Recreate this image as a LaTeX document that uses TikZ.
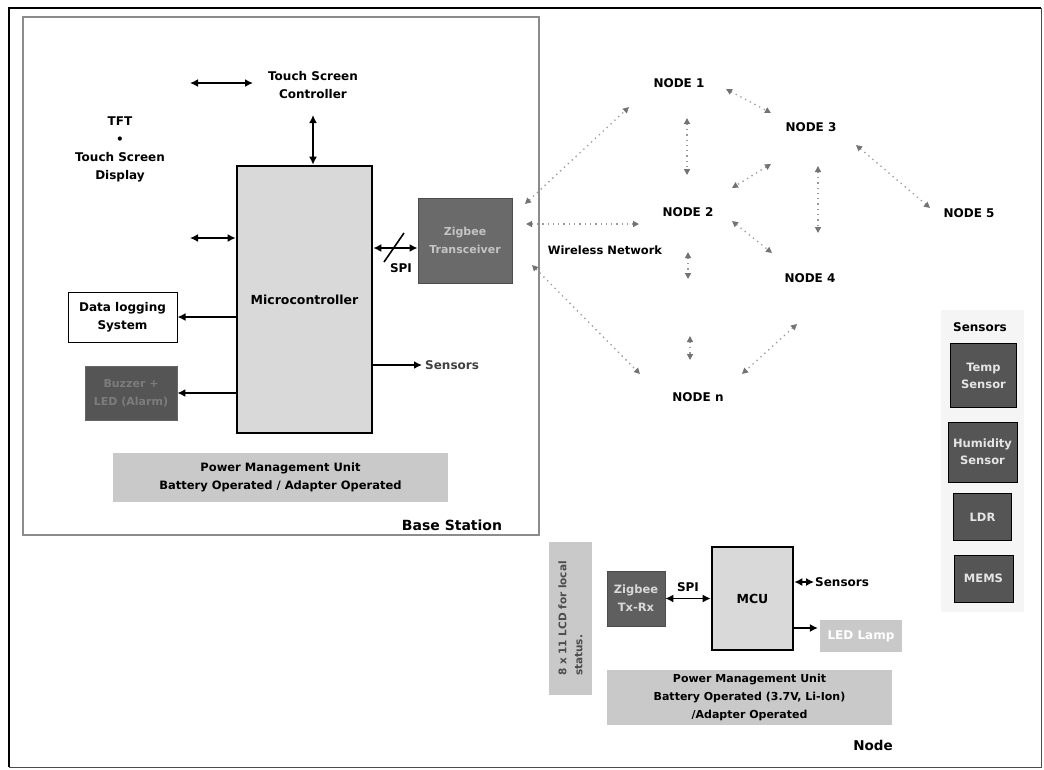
\documentclass[tikz,border=0pt]{standalone}
\usepackage{fontspec}
\setmainfont{DejaVu Sans}
\usetikzlibrary{arrows.meta}
\definecolor{mcufill}{HTML}{D9D9D9}
\definecolor{zigfill}{HTML}{6A6A6A}
\definecolor{zigtext}{HTML}{C4C4C4}
\definecolor{pmufill}{HTML}{C9C9C9}
\definecolor{darkbox}{HTML}{555555}
\definecolor{buzztext}{HTML}{7C7C7C}
\definecolor{netgray}{HTML}{9A9A9A}
\definecolor{panel}{HTML}{F5F5F5}
\tikzset{
  txt/.style={font=\bfseries\fontsize{12}{18}\selectfont, align=center, inner sep=0pt},
  blk/.style={draw=black, line width=2.6pt, fill=mcufill, inner sep=0pt, font=\bfseries\fontsize{12.5}{18}\selectfont},
  dkbox/.style={fill=zigfill, draw=black!70, line width=0.8pt, text=zigtext, inner sep=0pt, align=center, font=\bfseries\fontsize{11}{18}\selectfont},
  sensbox/.style={fill=darkbox, draw=black, line width=1pt, text=white!90!black, inner sep=0pt, align=center, font=\bfseries\fontsize{11.5}{17}\selectfont},
  pmubox/.style={fill=pmufill, inner sep=0pt, align=center, font=\bfseries\fontsize{11.5}{18}\selectfont},
  sarrow/.style={line width=1.8pt, -{Latex[length=8pt,width=8pt]}},
  dbl/.style={line width=1.8pt, {Latex[length=8pt,width=8pt]}-{Latex[length=8pt,width=8pt]}},
  net/.style={draw=netgray, line width=1.3pt, dash pattern=on 1.3pt off 4pt,
    {Triangle[length=6pt,width=6pt,fill=gray!90!black,color=gray!90!black]}-{Triangle[length=6pt,width=6pt,fill=gray!90!black,color=gray!90!black]}},
  nlabel/.style={font=\bfseries\fontsize{12}{14}\selectfont, inner sep=0pt}
}
\begin{document}
\begin{tikzpicture}[x=1pt,y=-1pt]
\useasboundingbox (0,0) rectangle (1044,769);
% outer frame
\draw[black, line width=2.2pt] (9,767) -- (9,8) -- (1041,8);
\draw[black!70, line width=1pt] (1041,8) -- (1041,767) -- (9,767);
% base station frame
\draw[black!45, line width=1.2pt] (23,17) rectangle (539,535);
% sensors panel
\fill[panel] (941,310) rectangle (1024,612);

% ===== Base station =====
\node[txt] (tsc) at (313,85) {Touch Screen\\Controller};
\node[txt] (tft) at (120,149) {TFT\\•\\Touch Screen\\Display};
\node[blk, minimum width=135pt, minimum height=267pt] (mcu) at (304.5,299.5) {Microcontroller};
\node[dkbox, minimum width=94pt, minimum height=85pt] (zt) at (465,240.5) {Zigbee\\Transceiver};
\node[draw=black, line width=1pt, fill=white, inner sep=0pt, minimum width=109pt, minimum height=50pt, txt] (dl) at (122.5,317) {Data logging\\System};
\node[fill=darkbox, draw=black!60, line width=0.8pt, text=buzztext, inner sep=0pt, minimum width=92pt, minimum height=54pt, align=center, font=\bfseries\fontsize{11}{18}\selectfont] (bz) at (131,393) {Buzzer +\\LED (Alarm)};
\node[txt, anchor=west, text=black!75] (sens1) at (425,365) {Sensors};
\node[pmubox, minimum width=335pt, minimum height=49pt] (pmu1) at (280.5,477.5) {Power Management Unit\\Battery Operated / Adapter Operated};
\node[txt, font=\bfseries\fontsize{14}{16}\selectfont] (bs) at (452,525) {Base Station};

\coordinate (ta1) at (190,83);
\coordinate (ta2) at (253,83);
\draw[dbl] (ta1) -- (ta2);
\coordinate (tv) at (313,115);
\draw[dbl] (tv) -- (tv |- mcu.north);
\coordinate (la) at (190,238);
\draw[dbl] (la) -- (la -| mcu.west);
\draw[sarrow] (mcu.west |- dl.east) -- (dl.east);
\draw[sarrow] (mcu.west |- bz.east) -- (bz.east);
\draw[sarrow] (mcu.east |- sens1.west) -- ([xshift=-3pt]sens1.west);
\coordinate (spiy) at (380,248);
\draw[dbl] (mcu.east |- spiy) -- (zt.west |- spiy);
\coordinate (sl1) at (384,262);
\coordinate (sl2) at (404,233);
\draw[line width=1.6pt] (sl1) -- (sl2);
\node[txt] (spi1) at (401,268) {SPI};

% ===== Network =====
\node[nlabel] (n1) at (679,83) {NODE 1};
\node[nlabel] (n3) at (811,127) {NODE 3};
\node[nlabel] (n5) at (969,213) {NODE 5};
\node[nlabel] (n2) at (688,212) {NODE 2};
\node[nlabel] (n4) at (810,278) {NODE 4};
\node[nlabel] (nn) at (698,397) {NODE n};
\node[txt, font=\bfseries\fontsize{11.5}{14}\selectfont] (wn) at (605,250) {Wireless Network};

\coordinate (a1) at (525,204); \coordinate (b1) at (629,107);
\coordinate (a2) at (526,224); \coordinate (b2) at (639,224);
\coordinate (a3) at (532,265); \coordinate (b3) at (640,374);
\coordinate (a4) at (726,89);  \coordinate (b4) at (771,113);
\coordinate (a5) at (687,118); \coordinate (b5) at (687,175);
\coordinate (a6) at (771,164); \coordinate (b6) at (732,188);
\coordinate (a7) at (818,166); \coordinate (b7) at (818,233);
\coordinate (a8) at (856,145); \coordinate (b8) at (930,208);
\coordinate (a9) at (732,221); \coordinate (b9) at (772,253);
\coordinate (a10) at (688,252); \coordinate (b10) at (688,279);
\coordinate (a11) at (690,336); \coordinate (b11) at (690,360);
\coordinate (a12) at (797,324); \coordinate (b12) at (742,374);
\foreach \i in {1,...,12} {\draw[net] (a\i) -- (b\i);}

% ===== Sensors panel =====
\node[txt] (sp) at (980,327) {Sensors};
\node[sensbox, minimum width=66pt, minimum height=64pt] (temp) at (983.5,375.5) {Temp\\Sensor};
\node[sensbox, minimum width=69pt, minimum height=60pt] (hum) at (982.5,452) {Humidity\\Sensor};
\node[sensbox, minimum width=58pt, minimum height=47pt] (ldr) at (982.5,517) {LDR};
\node[sensbox, minimum width=59pt, minimum height=47pt] (mems) at (983.5,578.5) {MEMS};

% ===== Node =====
\node[fill=pmufill, rotate=90, minimum width=153pt, minimum height=43pt, inner sep=0pt, align=left, text=black!70, font=\bfseries\fontsize{10.5}{16}\selectfont] (lcd) at (570.5,618.5) {8 x 11 LCD for local\\status.};
\node[dkbox, fill=zigfill!90!black, text=white!85!black, minimum width=58pt, minimum height=55pt, font=\bfseries\fontsize{11.5}{18}\selectfont] (zt2) at (636,598.5) {Zigbee\\Tx-Rx};
\node[blk, minimum width=81pt, minimum height=103pt] (mcu2) at (752.5,598.5) {MCU};
\node[txt, anchor=west] (sens2) at (815,582) {Sensors};
\node[fill=pmufill, text=white, inner sep=0pt, minimum width=82pt, minimum height=32pt, font=\bfseries\fontsize{12}{14}\selectfont] (led) at (861,636) {LED Lamp};
\node[pmubox, minimum width=285pt, minimum height=55pt, font=\bfseries\fontsize{11}{18}\selectfont] (pmu2) at (749.5,697.5) {Power Management Unit\\Battery Operated (3.7V, Li-Ion)\\/Adapter Operated};
\node[txt, font=\bfseries\fontsize{13.5}{14}\selectfont] (nodelbl) at (873,745) {Node};

\draw[dbl, line width=1.4pt] (zt2.east) -- (mcu2.west);
\node[txt] (spi2) at (688,587) {SPI};
\draw[dbl, line width=1.4pt] (mcu2.east |- sens2.west) -- ([xshift=-1pt]sens2.west);
\draw[sarrow, line width=1.2pt] (mcu2.east |- 0,628) -- ([yshift=8pt,xshift=-2pt]led.west);
\end{tikzpicture}
\end{document}
